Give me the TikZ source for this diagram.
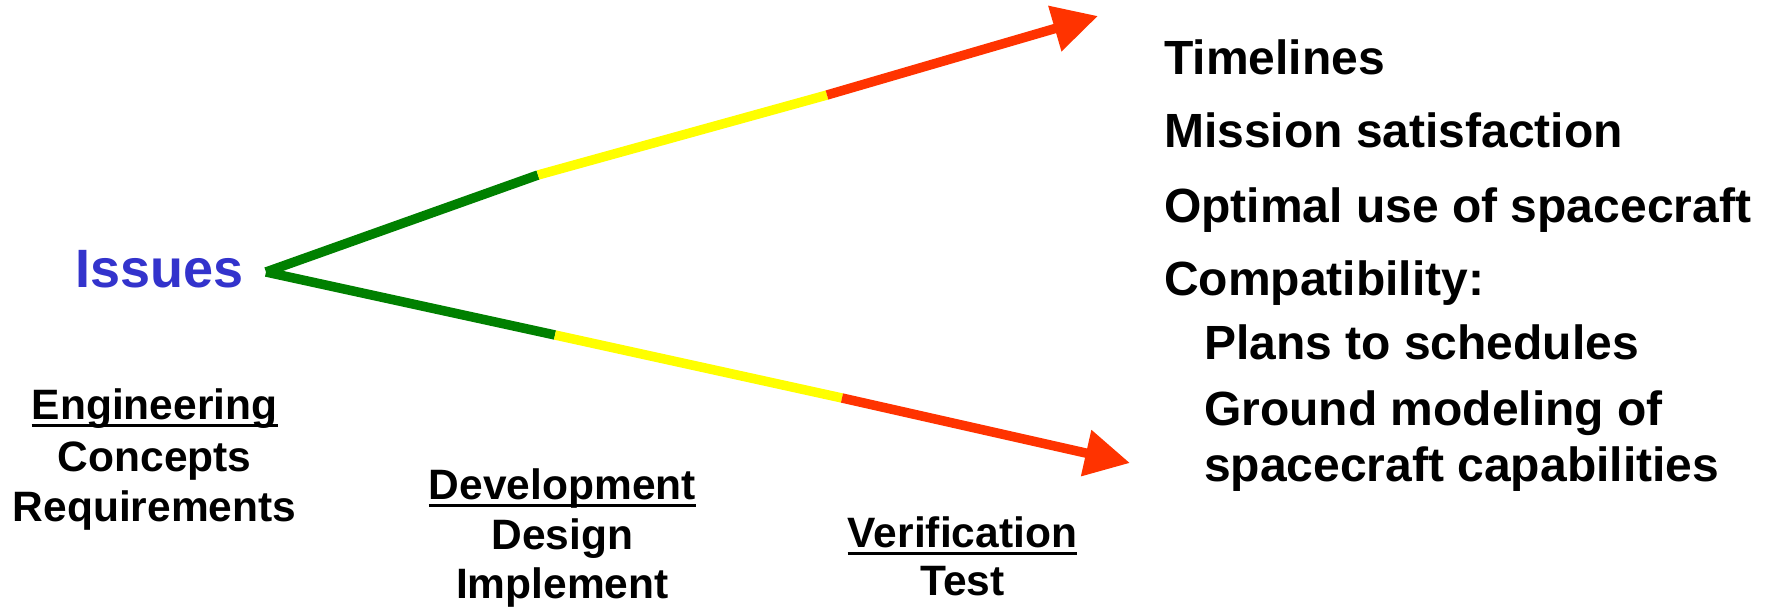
\documentclass[tikz,border=0pt]{standalone}
\usepackage{fontspec}
\setmainfont{Liberation Sans}
\usetikzlibrary{arrows.meta}

\definecolor{issueblue}{HTML}{3333CC}
\definecolor{stagegreen}{HTML}{008000}
\definecolor{stageyellow}{HTML}{FFFF00}
\definecolor{stagered}{HTML}{FF3300}

\newcommand\listfont{\bfseries\fontsize{48}{58}\selectfont}
\newcommand\phasefont{\bfseries\fontsize{42.5}{51}\selectfont}
\newcommand\issuefont{\bfseries\fontsize{54}{60}\selectfont}

\tikzset{
  seg/.style={line width=9.5pt, line cap=butt},
  tipped/.style={-{Triangle[length=45pt,width=45pt]}},
  listitem/.style={anchor=base west, inner sep=0pt, font=\listfont},
  phase/.style={anchor=base, inner sep=0pt, font=\phasefont},
  ulrule/.style={line width=3pt},
}

\begin{document}
\begin{tikzpicture}[x=1pt,y=-1pt]
\useasboundingbox (0,0) rectangle (1769,608);

% left label
\node[anchor=base west, inner sep=0pt, font=\issuefont, text=issueblue] (issues) at (75,287.5) {Issues};

% branch points of the two stage lines
\coordinate (apex) at (266,272);
\coordinate (u1) at (538,175);
\coordinate (u2) at (827,95);
\coordinate (utip) at (1098,16);
\coordinate (l1) at (555,335);
\coordinate (l2) at (842,398);
\coordinate (ltip) at (1130,463);

% upper line
\draw[seg, stagegreen] (apex) -- (u1);
\draw[seg, stageyellow] (u1) -- (u2);
\draw[seg, stagered, tipped] (u2) -- (utip);

% lower line
\draw[seg, stagegreen] (apex) -- (l1);
\draw[seg, stageyellow] (l1) -- (l2);
\draw[seg, stagered, tipped] (l2) -- (ltip);

% phases along the bottom
\node[phase] (eng) at (154.6,419.7) {Engineering};
\node[phase] (concepts) at (154.6,471.6) {Concepts};
\node[phase] (reqs) at (154.6,521.2) {Requirements};

\node[phase] (dev) at (562.4,499.8) {Development};
\node[phase] (design) at (562.4,549.4) {Design};
\node[phase] (impl) at (562.4,598) {Implement};

\node[phase] (ver) at (962.4,547.2) {Verification};
\node[phase] (test) at (962.4,595.7) {Test};

\foreach \h in {eng,dev,ver}
  \draw[ulrule] ([yshift=-6pt]\h.base west) -- ([yshift=-6pt]\h.base east);

% outcomes list
\node[listitem] (timelines) at (1164,74.5) {Timelines};
\node[listitem] (mission) at (1164,147.8) {Mission satisfaction};
\node[listitem] (optimal) at (1164,222.3) {Optimal use of spacecraft};
\node[listitem] (compat) at (1164,295.6) {Compatibility:};
\node[listitem] (plans) at (1204,359.9) {Plans to schedules};
\node[listitem] (ground) at (1204,425.3) {Ground modeling of};
\node[listitem] (capab) at (1204,481.7) {spacecraft capabilities};
\end{tikzpicture}
\end{document}
